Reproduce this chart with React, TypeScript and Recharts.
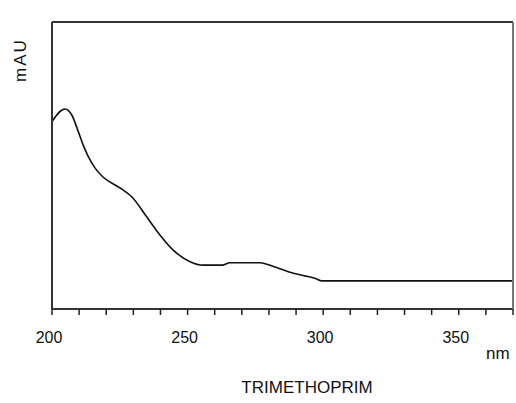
import { LineChart, Line, XAxis, YAxis } from 'recharts'

const wavelengths = [
  200, 204.8, 207.3, 209.7, 211.5, 213.4, 215.9, 218.8, 222.0, 226.2, 229.4, 234.7, 239.8,
  244.6, 250.9, 255.7, 262.7, 265.6, 276.7, 279.2, 283.3, 287.4, 292.9, 297.0, 299.6, 370,
]
const absorbance = [
  65.3, 69.7, 67.6, 61.8, 57.1, 53.1, 49.1, 46.0, 43.9, 41.5, 39.1, 32.4, 25.8,
  20.6, 16.5, 15.3, 15.3, 16.1, 16.1, 15.6, 14.3, 12.9, 11.6, 10.7, 9.8, 9.8,
]
const xTicks = [200, 210, 220, 230, 240, 250, 260, 270, 280, 290, 300, 310, 320, 330, 340, 350, 360, 370]
const majorTicks = [200, 250, 300, 350]

const data = wavelengths.map((nm, i) => ({ nm, mau: absorbance[i] }))

const font = '"Liberation Sans", Arial, sans-serif'
const frame = { stroke: '#333', strokeWidth: 2 }

// axes of size 0 are not drawn by recharts, so the frame axes get 1px
export default function App() {
  return (
    <div style={{ position: 'absolute', left: 0, top: 0, width: 516, height: 403, background: '#fff' }}>
      <LineChart width={516} height={403} data={data} margin={{ top: 21, right: 2, left: 51, bottom: 0 }}>
        <XAxis
          xAxisId="bottom"
          dataKey="nm"
          type="number"
          domain={[200, 370]}
          ticks={xTicks}
          interval={0}
          height={94}
          tickSize={6}
          tickMargin={17}
          tickFormatter={(v: number) => (majorTicks.includes(v) ? String(v) : '')}
          tick={{ fontSize: 16, fontFamily: font, fill: '#111', dx: -3 }}
          tickLine={{ stroke: '#222', strokeWidth: 1.5 }}
          axisLine={frame}
        />
        <XAxis
          xAxisId="top"
          orientation="top"
          dataKey="nm"
          type="number"
          domain={[200, 370]}
          height={1}
          tick={false}
          tickLine={false}
          axisLine={frame}
        />
        <YAxis yAxisId="left" domain={[0, 100]} width={1} tick={false} tickLine={false} axisLine={frame} />
        <YAxis
          yAxisId="right"
          orientation="right"
          domain={[0, 100]}
          width={1}
          tick={false}
          tickLine={false}
          axisLine={{ stroke: '#777', strokeWidth: 2 }}
        />
        <Line
          xAxisId="bottom"
          yAxisId="left"
          type="monotone"
          dataKey="mau"
          stroke="#111"
          strokeWidth={1.6}
          dot={false}
          isAnimationActive={false}
        />
      </LineChart>
      <div style={{ position: 'absolute', left: 486, top: 344, fontFamily: font, fontSize: 17, color: '#111' }}>nm</div>
      <div
        style={{
          position: 'absolute',
          left: 207,
          width: 200,
          top: 378,
          textAlign: 'center',
          fontFamily: font,
          fontSize: 17,
          color: '#111',
        }}
      >
        TRIMETHOPRIM
      </div>
      <div
        style={{
          position: 'absolute',
          left: 21,
          top: 60,
          transform: 'translate(-50%, -50%) rotate(-90deg)',
          fontFamily: font,
          fontSize: 17,
          letterSpacing: 2,
          color: '#111',
          whiteSpace: 'nowrap',
        }}
      >
        mAU
      </div>
    </div>
  )
}
